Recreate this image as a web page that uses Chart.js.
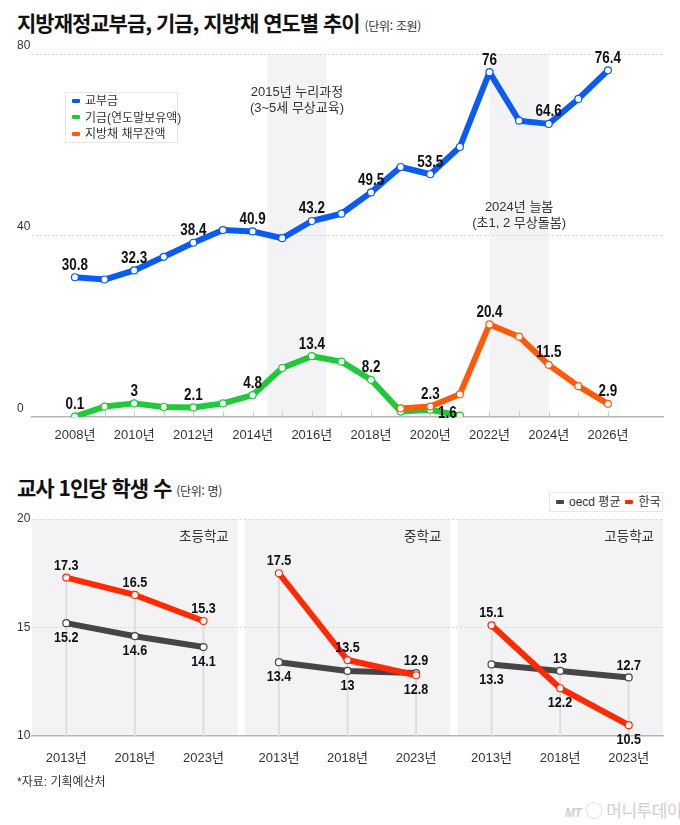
<!DOCTYPE html>
<html lang="ko">
<head>
<meta charset="utf-8">
<script src="https://cdn.jsdelivr.net/npm/chart.js@4.4.1/dist/chart.umd.min.js"></script>
<style>
  body { margin: 0; width: 680px; height: 825px; background: #fff; position: relative; overflow: hidden;
         font-family: 'Liberation Sans', 'Noto Sans CJK KR', sans-serif; color: #222; }
  .abs { position: absolute; white-space: nowrap; }
  .title { font-family: 'Noto Sans CJK KR', sans-serif; font-weight: 700; font-size: 21px; letter-spacing: -1px;
           line-height: 21px; color: #111; }
  .unit { font-size: 12px; font-weight: 400; letter-spacing: -0.3px; color: #333; }
  .legend { background: #fff; border: 1px solid #e6e6e6; box-sizing: border-box; font-size: 12px; color: #333; }
  .row { position: absolute; height: 16px; line-height: 16px; }
  .mark { display: inline-block; width: 8px; height: 4px; border-radius: 1px; vertical-align: middle; margin-right: 5px; position: relative; top: -1px; }
  canvas { position: absolute; left: 0; }
</style>
</head>
<body>

<div class="abs title" style="left:17px; top:12px;">지방재정교부금, 기금, 지방채 연도별 추이 <span class="unit">(단위: 조원)</span></div>
<canvas id="topChart" width="680" height="412" style="top:40px;"></canvas>
<div id="topLegend" class="abs legend" style="left:65px; top:92px; width:113px; height:51px;"></div>

<div class="abs title" style="left:17px; top:477px;">교사 1인당 학생 수 <span class="unit">(단위: 명)</span></div>
<canvas id="bottomChart" width="680" height="280" style="top:500px;"></canvas>
<div id="bottomLegend" class="abs legend" style="left:549px; top:492px; width:114px; height:20px;"></div>

<div class="abs" style="left:17px; top:772px; font-size:12px; color:#333;">*자료: 기획예산처</div>
<div class="abs" style="left:565px; top:797px; font-size:17px; color:#cfcfcf; letter-spacing:-0.5px;"><i style="font-weight:700; font-size:12px;">MT</i> ◯ 머니투데이</div>

<script>
// 상단 차트 데이터 (조원)
const years = [2008, 2009, 2010, 2011, 2012, 2013, 2014, 2015, 2016, 2017,
               2018, 2019, 2020, 2021, 2022, 2023, 2024, 2025, 2026];
const grantValues = [30.8, 30.3, 32.3, 35.3, 38.4, 41.2, 40.9, 39.4, 43.2, 44.8,
                     49.5, 55.1, 53.5, 59.5, 76, 65.3, 64.6, 70.1, 76.4];
const fundValues = [0.1, 2.3, 3, 2.2, 2.1, 3.0, 4.8, 10.8, 13.4, 12.2,
                    8.2, 1.2, 1.6, 0.3, null, null, null, null, null];
const bondValues = [null, null, null, null, null, null, null, null, null, null,
                    null, 1.9, 2.3, 5.0, 20.4, 17.7, 11.5, 6.8, 2.9];
const topSeriesNames = ['교부금', '기금(연도말보유액)', '지방채 채무잔액'];
const topYTicks = [0, 40, 80];
const bandRanges = [[2014.5, 2016.5], [2022, 2024]];
const bandNotes = [['2015년 누리과정', '(3~5세 무상교육)'], ['2024년 늘봄', '(초1, 2 무상돌봄)']];

// 하단 차트 데이터 (명)
const schoolNames = ['초등학교', '중학교', '고등학교'];
const surveyYears = ['2013년', '2018년', '2023년'];
const oecdElementary = [15.2, 14.6, 14.1];
const oecdMiddle = [13.4, 13, 12.9];
const oecdHigh = [13.3, 13, 12.7];
const koreaElementary = [17.3, 16.5, 15.3];
const koreaMiddle = [17.5, 13.5, 12.8];
const koreaHigh = [15.1, 12.2, 10.5];
const bottomSeriesNames = ['oecd 평균', '한국'];
const bottomYTicks = [10, 15, 20];

const FONT = "'Liberation Sans', 'Noto Sans CJK KR', sans-serif";
const BLUE = '#0a5af5', GREEN = '#20c83a', ORANGE = '#ff5a0a';
const GRAY = '#454545', RED = '#ff2a00';
const PANEL_BG = '#f3f3f5';

Chart.defaults.font.family = FONT;
Chart.defaults.color = '#333';

// 범례
function buildLegend(el, names, colors, rows) {
  el.innerHTML = names.map((n, i) => {
    const pos = rows ? `top:${i * 16.5}px; left:6px;` : 'display:inline-block; margin-right:5px;';
    return `<div class="${rows ? 'row' : ''}" style="${pos}">` +
           `<span class="mark" style="background:${colors[i]}"></span>${n}</div>`;
  }).join('');
}
buildLegend(document.getElementById('topLegend'), topSeriesNames, [BLUE, GREEN, ORANGE], true);
const bl = document.getElementById('bottomLegend');
buildLegend(bl, bottomSeriesNames, [GRAY, RED], false);
bl.style.lineHeight = '18px';
bl.style.paddingLeft = '6px';

function fmt(v) { return String(v); }

// 좁은 굵은 글씨로 값 라벨 그리기
function narrowText(ctx, text, x, y, size) {
  ctx.save();
  ctx.font = 'bold ' + size + 'px ' + FONT;
  ctx.translate(x, y);
  ctx.scale(0.84, 1);
  ctx.fillText(text, 0, 0);
  ctx.restore();
}

// 상단 차트: 음영 구간, 연도 눈금, 값 라벨
const topDecor = {
  id: 'topDecor',
  beforeDraw(chart) {
    const { ctx, chartArea, scales } = chart;
    ctx.save();
    ctx.fillStyle = PANEL_BG;
    bandRanges.forEach(r => {
      const x1 = scales.x.getPixelForValue(r[0]);
      const x2 = scales.x.getPixelForValue(r[1]);
      ctx.fillRect(x1, chartArea.top, x2 - x1, chartArea.bottom - chartArea.top);
    });
    ctx.restore();
  },
  beforeDatasetsDraw(chart) {
    const { ctx, chartArea, scales } = chart;
    ctx.save();
    ctx.strokeStyle = '#cfcfcf';
    ctx.lineWidth = 1;
    years.forEach(y => {
      const x = Math.round(scales.x.getPixelForValue(y)) + 0.5;
      ctx.beginPath();
      ctx.moveTo(x, chartArea.bottom - 6);
      ctx.lineTo(x, chartArea.bottom);
      ctx.stroke();
    });
    // 구간 설명
    ctx.fillStyle = '#333';
    ctx.font = '13px ' + FONT;
    ctx.textAlign = 'center';
    ctx.textBaseline = 'middle';
    const noteTop = [38, 153];
    bandRanges.forEach((r, i) => {
      const cx = scales.x.getPixelForValue((r[0] + r[1]) / 2);
      ctx.fillText(bandNotes[i][0], cx, chartArea.top + noteTop[i]);
      ctx.fillText(bandNotes[i][1], cx, chartArea.top + noteTop[i] + 16);
    });
    ctx.restore();
  },
  afterDatasetsDraw(chart) {
    const { ctx } = chart;
    ctx.save();
    ctx.fillStyle = '#111';
    ctx.textAlign = 'center';
    ctx.textBaseline = 'middle';
    chart.data.datasets.forEach((ds, di) => {
      const meta = chart.getDatasetMeta(di);
      ds.data.forEach((d, i) => {
        if (d.y == null || d.x % 2 !== 0) return;
        const pt = meta.data[i];
        const off = (ds.labelShift && ds.labelShift[d.x]) || [0, -12];
        narrowText(ctx, fmt(d.y), pt.x + off[0], pt.y + off[1], 16);
      });
    });
    ctx.restore();
  }
};

function lineSet(label, values, color, order) {
  return {
    label,
    data: years.map((y, i) => ({ x: y, y: values[i] })),
    borderColor: color,
    borderWidth: 6,
    borderJoinStyle: 'round',
    borderCapStyle: 'round',
    pointRadius: 3.5,
    pointBackgroundColor: '#fff',
    pointBorderColor: color,
    pointBorderWidth: 1.2,
    tension: 0,
    order
  };
}

const fundSet = lineSet(topSeriesNames[1], fundValues, GREEN, 3);
fundSet.labelShift = { 2020: [17, 4] };

new Chart(document.getElementById('topChart'), {
  type: 'line',
  data: {
    datasets: [
      lineSet(topSeriesNames[0], grantValues, BLUE, 2),
      fundSet,
      lineSet(topSeriesNames[2], bondValues, ORANGE, 1)
    ]
  },
  options: {
    responsive: false,
    devicePixelRatio: 1,
    animation: false,
    events: [],
    layout: { padding: { left: 17, right: 17, top: 14, bottom: 0 } },
    plugins: { legend: { display: false }, tooltip: { enabled: false } },
    scales: {
      x: {
        type: 'linear',
        min: 2006.55,
        max: 2027.86,
        offset: false,
        afterBuildTicks: s => { s.ticks = years.map(v => ({ value: v })); },
        afterFit: s => { s.height = 35; },
        ticks: {
          autoSkip: false,
          maxRotation: 0,
          padding: 11,
          color: '#333',
          font: { size: 13 },
          callback: v => (v % 2 === 0 ? v + '년' : '')
        },
        grid: { display: false, drawTicks: false, offset: false },
        border: { display: true, color: '#b4b4b4', width: 1.5 }
      },
      y: {
        min: 0,
        max: 80,
        afterBuildTicks: s => { s.ticks = topYTicks.map(v => ({ value: v })); },
        afterFit: s => { s.width = 15; },
        ticks: { crossAlign: 'far', labelOffset: -8.5, padding: 0, color: '#333', font: { size: 12 } },
        grid: { color: c => (c.tick && c.tick.value === 0 ? 'rgba(0,0,0,0)' : '#d8d8d8'), lineWidth: 1, drawTicks: false },
        border: { display: false, dash: [2, 2] }
      }
    }
  },
  plugins: [topDecor]
});

// 하단 차트: 학교급별 패널
const PANEL_STEP = 3.1;
const oecdBySchool = [oecdElementary, oecdMiddle, oecdHigh];
const koreaBySchool = [koreaElementary, koreaMiddle, koreaHigh];
const oecdLabelPos = [['below', 'below', 'below'], ['below', 'below', 'above'], ['below', 'above', 'above']];
const koreaLabelPos = [['above', 'above', 'above'], ['above', 'above', 'below'], ['above', 'below', 'below']];
const tickXs = [];
schoolNames.forEach((s, p) => surveyYears.forEach((y, i) => tickXs.push(p * PANEL_STEP + i)));

const bottomDatasets = [];
const stems = [];
schoolNames.forEach((s, p) => {
  surveyYears.forEach((y, i) => {
    stems.push({ x: p * PANEL_STEP + i, y: Math.max(oecdBySchool[p][i], koreaBySchool[p][i]) });
  });
  [[oecdBySchool[p], GRAY, oecdLabelPos[p], 2], [koreaBySchool[p], RED, koreaLabelPos[p], 1]].forEach(([vals, color, pos, order]) => {
    bottomDatasets.push({
      type: 'line',
      data: vals.map((v, i) => ({ x: p * PANEL_STEP + i, y: v })),
      borderColor: color,
      borderWidth: 6,
      borderJoinStyle: 'round',
      pointRadius: 3.5,
      pointBackgroundColor: '#fff',
      pointBorderColor: color,
      pointBorderWidth: 1.2,
      tension: 0,
      order,
      labelPos: pos
    });
  });
});
bottomDatasets.push({
  type: 'bar',
  data: stems,
  backgroundColor: '#dcdcdc',
  barThickness: 1.2,
  order: 10
});

const bottomDecor = {
  id: 'bottomDecor',
  beforeDraw(chart) {
    const { ctx, chartArea, scales } = chart;
    ctx.save();
    ctx.fillStyle = PANEL_BG;
    schoolNames.forEach((s, p) => {
      const x1 = scales.x.getPixelForValue(p * PANEL_STEP - 0.5);
      const x2 = scales.x.getPixelForValue(p * PANEL_STEP + 2.5);
      ctx.fillRect(x1, chartArea.top, x2 - x1, chartArea.bottom - chartArea.top);
    });
    ctx.fillStyle = '#333';
    ctx.font = '13.5px ' + FONT;
    ctx.textAlign = 'right';
    ctx.textBaseline = 'middle';
    schoolNames.forEach((s, p) => {
      const x2 = scales.x.getPixelForValue(p * PANEL_STEP + 2.5);
      ctx.fillText(s, x2 - 9, chartArea.top + 18);
    });
    ctx.restore();
  },
  afterDatasetsDraw(chart) {
    const { ctx } = chart;
    ctx.save();
    ctx.fillStyle = '#111';
    ctx.textAlign = 'center';
    ctx.textBaseline = 'middle';
    chart.data.datasets.forEach((ds, di) => {
      if (!ds.labelPos) return;
      const meta = chart.getDatasetMeta(di);
      ds.data.forEach((d, i) => {
        const pt = meta.data[i];
        narrowText(ctx, fmt(d.y), pt.x, pt.y + (ds.labelPos[i] === 'above' ? -12 : 15), 15);
      });
    });
    ctx.restore();
  }
};

new Chart(document.getElementById('bottomChart'), {
  type: 'line',
  data: { datasets: bottomDatasets },
  options: {
    responsive: false,
    devicePixelRatio: 1,
    animation: false,
    events: [],
    layout: { padding: { left: 17, right: 17, top: 19, bottom: 0 } },
    plugins: { legend: { display: false }, tooltip: { enabled: false } },
    scales: {
      x: {
        type: 'linear',
        min: -0.5,
        max: 2 * PANEL_STEP + 2.5,
        offset: false,
        afterBuildTicks: s => { s.ticks = tickXs.map(v => ({ value: v })); },
        afterFit: s => { s.height = 44; },
        ticks: {
          autoSkip: false,
          maxRotation: 0,
          padding: 15,
          color: '#333',
          font: { size: 13 },
          callback: (v, i) => surveyYears[i % surveyYears.length]
        },
        grid: { display: false, drawTicks: false, offset: false },
        border: { display: true, color: '#b4b4b4', width: 1.5 }
      },
      y: {
        min: 10,
        max: 20,
        afterBuildTicks: s => { s.ticks = bottomYTicks.map(v => ({ value: v })); },
        afterFit: s => { s.width = 15; },
        ticks: { crossAlign: 'far', padding: 0, color: '#333', font: { size: 12 } },
        grid: { color: c => (c.tick && c.tick.value === 10 ? 'rgba(0,0,0,0)' : '#d8d8d8'), lineWidth: 1, drawTicks: false },
        border: { display: false, dash: [2, 2] }
      }
    }
  },
  plugins: [bottomDecor]
});
</script>
</body>
</html>
